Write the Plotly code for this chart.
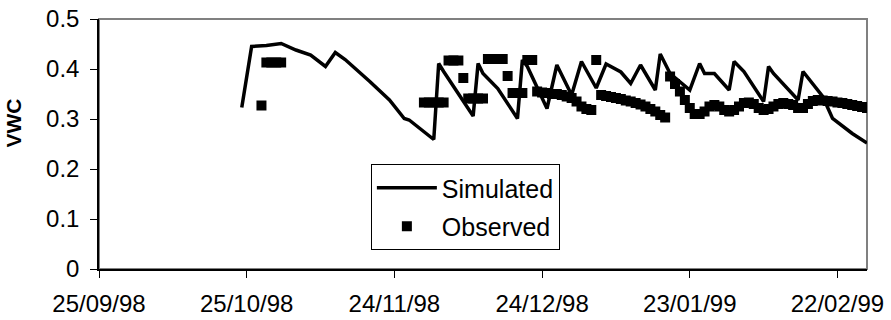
import plotly.graph_objects as go

# Simulated volumetric water content (model output, vertices of the daily series)
sim_dates = [
    "1998-10-24", "1998-10-26", "1998-10-29", "1998-11-01", "1998-11-04", "1998-11-07",
    "1998-11-10", "1998-11-12", "1998-11-14", "1998-11-18", "1998-11-19", "1998-11-23",
    "1998-11-26", "1998-11-27", "1998-12-02", "1998-12-03", "1998-12-04", "1998-12-10",
    "1998-12-11", "1998-12-12", "1998-12-15", "1998-12-19", "1998-12-20", "1998-12-21",
    "1998-12-25", "1998-12-27", "1998-12-30", "1999-01-01", "1999-01-04", "1999-01-06",
    "1999-01-09", "1999-01-11", "1999-01-13", "1999-01-16", "1999-01-17", "1999-01-19",
    "1999-01-23", "1999-01-25", "1999-01-26", "1999-01-28", "1999-01-31", "1999-02-01",
    "1999-02-03", "1999-02-07", "1999-02-08", "1999-02-09", "1999-02-14", "1999-02-15",
    "1999-02-19", "1999-02-21", "1999-02-25", "1999-02-28",
]
sim_vwc = [
    0.323, 0.445, 0.447, 0.451, 0.438, 0.428,
    0.405, 0.433, 0.419, 0.385, 0.375, 0.338,
    0.301, 0.298, 0.259, 0.411, 0.395, 0.306,
    0.411, 0.391, 0.361, 0.301, 0.418, 0.405,
    0.321, 0.408, 0.348, 0.415, 0.362, 0.410,
    0.394, 0.371, 0.408, 0.358, 0.430, 0.391,
    0.358, 0.411, 0.391, 0.391, 0.358, 0.415,
    0.395, 0.335, 0.405, 0.391, 0.338, 0.395,
    0.345, 0.301, 0.271, 0.252,
]

# Observed volumetric water content (daily readings)
obs_dates = [
    "1998-10-28", "1998-10-29", "1998-10-30", "1998-10-31", "1998-11-01",
    "1998-11-30", "1998-12-01", "1998-12-02", "1998-12-03", "1998-12-04",
    "1998-12-05", "1998-12-06", "1998-12-07", "1998-12-08", "1998-12-09",
    "1998-12-10", "1998-12-11", "1998-12-12", "1998-12-13", "1998-12-14",
    "1998-12-15", "1998-12-16", "1998-12-17", "1998-12-18", "1998-12-19",
    "1998-12-20", "1998-12-21", "1998-12-22", "1998-12-23", "1998-12-24",
    "1998-12-25", "1998-12-26", "1998-12-27", "1998-12-28", "1998-12-29",
    "1998-12-30", "1998-12-31", "1999-01-01", "1999-01-02", "1999-01-03",
    "1999-01-04", "1999-01-05", "1999-01-06", "1999-01-07", "1999-01-08",
    "1999-01-09", "1999-01-10", "1999-01-11", "1999-01-12", "1999-01-13",
    "1999-01-14", "1999-01-15", "1999-01-16", "1999-01-17", "1999-01-18",
    "1999-01-19", "1999-01-20", "1999-01-21", "1999-01-22", "1999-01-23",
    "1999-01-24", "1999-01-25", "1999-01-26", "1999-01-27", "1999-01-28",
    "1999-01-29", "1999-01-30", "1999-01-31", "1999-02-01", "1999-02-02",
    "1999-02-03", "1999-02-04", "1999-02-05", "1999-02-06", "1999-02-07",
    "1999-02-08", "1999-02-09", "1999-02-10", "1999-02-11", "1999-02-12",
    "1999-02-13", "1999-02-14", "1999-02-15", "1999-02-16", "1999-02-17",
    "1999-02-18", "1999-02-19", "1999-02-20", "1999-02-21", "1999-02-22",
    "1999-02-23", "1999-02-24", "1999-02-25", "1999-02-26", "1999-02-27",
    "1999-02-28",
]
obs_vwc = [
    0.327, 0.413, 0.413, 0.413, 0.413,
    0.333, 0.333, 0.333, 0.333, 0.333,
    0.417, 0.417, 0.417, 0.382, 0.341,
    0.341, 0.341, 0.341, 0.420, 0.420,
    0.420, 0.420, 0.386, 0.352, 0.352,
    0.352, 0.418, 0.418, 0.355, 0.353,
    0.352, 0.350, 0.350, 0.348, 0.345,
    0.342, 0.335, 0.325, 0.320, 0.318,
    0.418, 0.348, 0.346, 0.344, 0.342,
    0.340, 0.337, 0.335, 0.332, 0.329,
    0.325, 0.320, 0.315, 0.308, 0.303,
    0.385, 0.370, 0.355, 0.338, 0.322,
    0.310, 0.310, 0.315, 0.325, 0.328,
    0.325, 0.318, 0.315, 0.318, 0.325,
    0.332, 0.333, 0.330, 0.322, 0.318,
    0.320, 0.325, 0.330, 0.332, 0.330,
    0.328, 0.322, 0.322, 0.330, 0.336,
    0.338, 0.337, 0.336, 0.335, 0.333,
    0.332, 0.330, 0.328, 0.326, 0.324,
    0.322,
]

# Axis ticks
x_tick_dates = ["1998-09-25", "1998-10-25", "1998-11-24", "1998-12-24", "1999-01-23", "1999-02-22"]
x_tick_labels = ["25/09/98", "25/10/98", "24/11/98", "24/12/98", "23/01/99", "22/02/99"]
y_ticks = [0, 0.1, 0.2, 0.3, 0.4, 0.5]
y_tick_labels = ["0", "0.1", "0.2", "0.3", "0.4", "0.5"]

FONT = "Liberation Sans, Arial, sans-serif"

fig = go.Figure()
fig.add_trace(go.Scatter(
    x=sim_dates, y=sim_vwc, mode="lines", name="Simulated", legendgroup="sim",
    line=dict(color="black", width=3.5),
))
fig.add_trace(go.Scatter(
    x=obs_dates, y=obs_vwc, mode="markers", name="Observed", legendgroup="obs",
    marker=dict(symbol="square", size=10, color="black", line=dict(width=0)),
))

fig.update_layout(
    width=891, height=320,
    margin=dict(l=99, r=24, t=19, b=51),
    paper_bgcolor="white", plot_bgcolor="white",
    font=dict(family=FONT, size=24, color="black"),
    showlegend=True,
    legend=dict(
        x=0.354, y=0.42, xanchor="left", yanchor="top",
        bgcolor="white", bordercolor="black", borderwidth=1,
        font=dict(family=FONT, size=25, color="black"),
        itemwidth=60, traceorder="grouped", tracegroupgap=3,
    ),
    shapes=[dict(
        type="rect", xref="paper", yref="paper", x0=0, y0=0, x1=1, y1=1,
        line=dict(color="#808080", width=2), layer="below",
    )],
    annotations=[dict(
        text="<b>VWC</b>", xref="paper", yref="paper", x=-0.111, y=0.585,
        xanchor="center", yanchor="middle", textangle=-90, showarrow=False,
        font=dict(family=FONT, size=21, color="black"),
    )],
)
fig.update_xaxes(
    type="date", range=["1998-09-25", "1999-02-28"], automargin=False,
    tickmode="array", tickvals=x_tick_dates, ticktext=x_tick_labels,
    ticks="outside", ticklen=7, tickcolor="black", tickwidth=1,
    showline=True, linecolor="black", linewidth=1.5,
    showgrid=False, zeroline=False, ticklabelstandoff=5,
    tickfont=dict(family=FONT, size=24, color="black"),
)
fig.update_yaxes(
    range=[0, 0.5], automargin=False,
    tickmode="array", tickvals=y_ticks, ticktext=y_tick_labels,
    ticks="outside", ticklen=7, tickcolor="black", tickwidth=1,
    showline=True, linecolor="black", linewidth=1.5,
    showgrid=False, zeroline=False, ticklabelstandoff=6,
    tickfont=dict(family=FONT, size=24, color="black"),
)

fig.write_html("out.html")
